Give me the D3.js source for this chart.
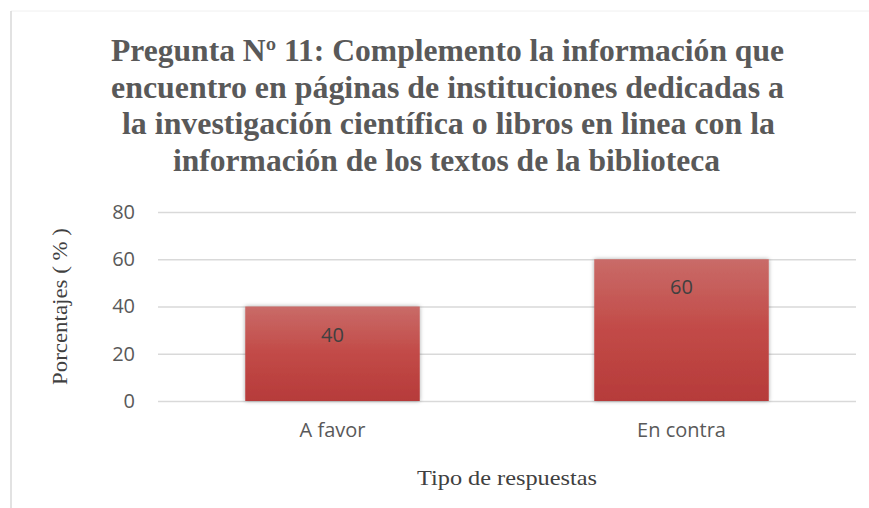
<!DOCTYPE html>
<html>
<head>
<meta charset="utf-8">
<script src="https://cdn.jsdelivr.net/npm/d3@7"></script>
<style>
	body { margin: 0; background: #fff; }
	svg { display: block; }
</style>
</head>
<body>
<div class="thegraph"></div>
<script>
var categories = ["A favor", "En contra"];
var values = [40, 60];
var yTicks = [0, 20, 40, 60, 80];
var titleLines = [
	"Pregunta Nº 11: Complemento la información que",
	"encuentro en páginas de instituciones dedicadas a",
	"la investigación científica o libros en linea con la",
	"información de los textos de la biblioteca"
];
var yTitle = "Porcentajes ( % )";
var xTitle = "Tipo de respuestas";

(function() {
	var w = 869;
	var h = 508;
	var svg = d3.select(".thegraph").append("svg")
		.attr("width", w)
		.attr("height", h);

	var defs = svg.append("defs");
	var grad = defs.append("linearGradient")
		.attr("id", "barfill")
		.attr("x1", 0).attr("y1", 0).attr("x2", 0).attr("y2", 1);
	grad.append("stop").attr("offset", "0%").attr("stop-color", "#c96b68");
	grad.append("stop").attr("offset", "50%").attr("stop-color", "#c24a47");
	grad.append("stop").attr("offset", "100%").attr("stop-color", "#b63b3a");
	var shadow = defs.append("filter").attr("id", "shadow")
		.attr("x", "-10%").attr("y", "-10%").attr("width", "120%").attr("height", "120%");
	shadow.append("feDropShadow")
		.attr("dx", 0).attr("dy", 0).attr("stdDeviation", 2)
		.attr("flood-color", "#000").attr("flood-opacity", 0.35);

	// chart border (only top and left show in the crop)
	svg.append("line").attr("x1", 11).attr("y1", 11).attr("x2", w).attr("y2", 11)
		.attr("stroke", "#f0f0f0").attr("stroke-width", 1);
	svg.append("line").attr("x1", 11).attr("y1", 11).attr("x2", 11).attr("y2", h)
		.attr("stroke", "#d9d9d9").attr("stroke-width", 1.5);

	// title
	var titleY = [61, 97.5, 134, 170.5];
	var titleLen = [673, 673, 653, 547];
	svg.selectAll(".title")
		.data(titleLines)
		.enter()
		.append("text")
		.attr("class", "title")
		.text(function(d) { return d; })
		.attr("x", function(d, i) { return i == 3 ? 173 : (i == 2 ? 122 : 111); })
		.attr("y", function(d, i) { return titleY[i]; })
		.attr("textLength", function(d, i) { return titleLen[i]; })
		.attr("lengthAdjust", "spacingAndGlyphs")
		.attr("font-family", "'Liberation Serif', 'Times New Roman', serif")
		.attr("font-weight", "bold")
		.attr("font-size", "31px")
		.attr("fill", "#595959");

	var x = d3.scaleBand()
		.domain(categories)
		.range([158, 856])
		.paddingInner(0.5)
		.paddingOuter(0.25);
	var y = d3.scaleLinear()
		.domain([0, 80])
		.range([401, 212]);

	// gridlines
	svg.append("g")
		.attr("transform", "translate(158,0)")
		.call(d3.axisLeft(y).tickValues(yTicks).tickSize(-698).tickFormat(""))
		.call(function(g) {
			g.select(".domain").remove();
			g.selectAll("line").attr("stroke", "#d9d9d9").attr("stroke-width", 1.3);
		});

	// y tick labels
	svg.append("g")
		.attr("transform", "translate(158,0)")
		.call(d3.axisLeft(y).tickValues(yTicks).tickSize(0).tickPadding(23))
		.call(function(g) {
			g.select(".domain").remove();
			g.selectAll("text")
				.attr("font-family", "'Open Sans', sans-serif")
				.attr("font-size", "20px")
				.attr("fill", "#595959");
		});

	// bars
	svg.selectAll("rect.bar")
		.data(values)
		.enter()
		.append("rect")
		.attr("class", "bar")
		.attr("x", function(d, i) { return x(categories[i]); })
		.attr("y", function(d) { return y(d); })
		.attr("width", x.bandwidth())
		.attr("height", function(d) { return y(0) - y(d); })
		.attr("fill", "url(#barfill)")
		.attr("filter", "url(#shadow)");

	// data labels
	svg.selectAll("text.val")
		.data(values)
		.enter()
		.append("text")
		.attr("class", "val")
		.text(function(d) { return d; })
		.attr("x", function(d, i) { return x(categories[i]) + x.bandwidth() / 2; })
		.attr("y", function(d) { return y(d) + 35; })
		.attr("text-anchor", "middle")
		.attr("font-family", "'Open Sans', sans-serif")
		.attr("font-size", "20px")
		.attr("fill", "#404040");

	// x category labels
	svg.append("g")
		.attr("transform", "translate(0,401)")
		.call(d3.axisBottom(x).tickSize(0).tickPadding(22))
		.call(function(g) {
			g.select(".domain").remove();
			g.selectAll("text")
				.attr("font-family", "'Open Sans', sans-serif")
				.attr("font-size", "20px")
				.attr("fill", "#595959");
		});

	// axis titles
	svg.append("text")
		.text(yTitle)
		.attr("transform", "translate(67,306.5) rotate(-90)")
		.attr("text-anchor", "middle")
		.attr("textLength", 157)
		.attr("lengthAdjust", "spacingAndGlyphs")
		.attr("font-family", "'Liberation Serif', 'Times New Roman', serif")
		.attr("font-size", "22px")
		.attr("fill", "#404040");

	svg.append("text")
		.text(xTitle)
		.attr("x", 507)
		.attr("y", 485)
		.attr("text-anchor", "middle")
		.attr("textLength", 180)
		.attr("lengthAdjust", "spacingAndGlyphs")
		.attr("font-family", "'Liberation Serif', 'Times New Roman', serif")
		.attr("font-size", "22px")
		.attr("fill", "#404040");
})();
</script>
</body>
</html>
